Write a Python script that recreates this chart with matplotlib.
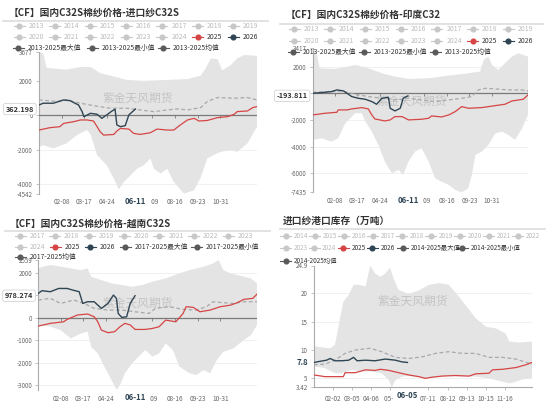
import matplotlib.pyplot as plt
import numpy as np
from matplotlib.lines import Line2D

plt.rcParams['font.family'] = ['Noto Sans CJK SC', 'DejaVu Sans']

W, H = 550, 404
RED = '#d64545'
DARK = '#2f4554'

# 横轴都是一年中的第几天 (0 = 01-01)
# ---------- 面板1: 国内C32S - 进口纱C32S ----------
p1_max_day = [0, 7, 13, 46, 69, 86, 102, 125, 147, 175, 214, 248, 270, 278, 287, 298, 306, 320, 331, 343, 364]
p1_max_val = [3677, 3600, 2750, 2650, 2800, 2800, 2450, 2250, 2050, 2000, 2050, 2100, 2300, 2700, 3300, 3250,
              2600, 2900, 3300, 3500, 3450]
p1_min_day = [0, 7, 24, 46, 63, 80, 86, 97, 113, 125, 133, 141, 153, 164, 175, 186, 192, 203, 214, 225,
              242, 259, 270, 281, 292, 303, 320, 331, 348, 364]
p1_min_val = [-1825, -1730, -1920, -1630, -1150, -850, -1100, -2310, -2890, -3670, -4300, -3900, -3480, -3090,
              -2900, -2500, -3100, -3380, -3100, -3860, -4542, -4350, -3600, -2500, -2300, -2120, -2020, -2120,
              -1630, -660]
p1_mean_day = [0, 30, 46, 69, 91, 119, 147, 169, 192, 214, 231, 248, 270, 281, 298, 326, 348, 364]
p1_mean_val = [890, 800, 890, 700, 560, 410, 410, 310, 210, 310, 370, 310, 450, 800, 1030, 990, 1030, 890]
p1_2025_day = [0, 18, 35, 41, 58, 69, 80, 91, 97, 102, 108, 125, 130, 136, 150, 158, 169, 186, 197, 214,
               225, 236, 248, 259, 267, 281, 298, 315, 326, 331, 348, 357, 364]
p1_2025_val = [-855, -720, -660, -470, -370, -270, -270, -330, -660, -950, -1150, -1110, -910, -760, -800,
               -1050, -1110, -1010, -800, -855, -855, -560, -270, -175, -330, -300, -135, -78, 60, 215, 250,
               445, 505]
p1_2026_day = [0, 7, 24, 41, 52, 60, 66, 72, 75, 86, 97, 105, 113, 122, 127, 130, 136, 144, 150, 161]
p1_2026_val = [600, 700, 700, 890, 850, 700, 600, 210, -78, 115, 60, -175, 20, 250, 350, -560, -660, -600,
               20, 362.198]

# ---------- 面板2: 国内C32S - 印度C32 ----------
p2_max_day = [0, 7, 12, 38, 60, 72, 94, 117, 139, 162, 196, 230, 263, 283, 289, 297, 303, 314, 325, 337, 348, 364]
p2_max_val = [3417, 2875, 1875, 1825, 2000, 2125, 1875, 1500, 1250, 1075, 1125, 1325, 1500, 1625, 2500, 2750,
              2125, 1750, 2250, 2750, 3000, 2750]
p2_min_day = [0, 15, 32, 43, 55, 72, 83, 89, 100, 111, 122, 134, 145, 153, 162, 173, 184, 196, 207, 218,
              230, 241, 252, 263, 269, 275, 286, 297, 309, 320, 331, 342, 354, 364]
p2_min_val = [-3500, -3375, -3625, -3375, -2250, -1500, -1500, -2125, -2875, -3875, -5125, -6000, -5750, -6125,
              -5125, -4375, -4125, -5125, -6375, -6625, -6875, -7250, -7435, -7125, -6125, -4625, -4375, -3875,
              -3000, -2875, -3125, -3500, -2625, -1625]
p2_mean_day = [0, 27, 49, 72, 94, 117, 139, 162, 184, 207, 230, 252, 269, 280, 292, 309, 331, 354, 364]
p2_mean_val = [75, 125, 175, -75, -250, -375, -500, -375, -500, -625, -500, -375, -250, 250, 375, 325, 250, 250, 175]
p2_2025_day = [0, 21, 41, 43, 58, 66, 83, 94, 100, 105, 122, 131, 139, 151, 162, 184, 196, 201, 218, 230,
               241, 252, 263, 286, 309, 325, 337, 356, 364]
p2_2025_val = [-1625, -1500, -1425, -1250, -1250, -1175, -1075, -1175, -1625, -1925, -2075, -2000, -1750, -1750,
               -2000, -1950, -1875, -1700, -1775, -1625, -1375, -1000, -1125, -1075, -925, -825, -575, -450, -125]
p2_2026_day = [0, 15, 32, 41, 52, 58, 66, 77, 89, 100, 108, 117, 128, 131, 139, 148, 153, 161]
p2_2026_val = [0, 50, 125, 250, 175, 0, -250, -375, -450, -625, -825, -375, -300, -1125, -1325, -1125, -375,
               -193.811]

# ---------- 面板3: 国内C32S - 越南C32S ----------
p3_max_day = [0, 8, 20, 31, 54, 71, 82, 88, 105, 122, 139, 156, 173, 190, 212, 235, 252, 275, 291, 300,
              308, 320, 331, 354, 364]
p3_max_val = [2190, 2265, 2340, 2300, 2190, 2115, 2190, 1820, 1670, 1525, 1450, 1375, 1450, 1600, 1745, 1970,
              2115, 2265, 2410, 2559, 2115, 1970, 1895, 1745, 1525]
p3_min_day = [0, 20, 37, 54, 71, 82, 88, 99, 110, 122, 130, 136, 144, 156, 167, 178, 190, 201, 212, 224,
              235, 252, 263, 275, 286, 297, 308, 325, 342, 354, 364]
p3_min_val = [-325, -400, -550, -920, -700, -620, -1290, -1585, -2175, -2770, -3196, -3000, -2470, -2030, -1730,
              -1435, -1730, -1585, -1140, -1435, -2175, -2470, -2545, -2325, -2470, -1880, -1510, -1360, -990,
              -770, -325]
p3_mean_day = [0, 20, 37, 59, 76, 93, 116, 139, 161, 184, 195, 218, 241, 263, 280, 291, 308, 325, 342, 364]
p3_mean_val = [785, 860, 635, 785, 635, 415, 340, 340, 265, 190, 415, 490, 370, 340, 490, 710, 665, 635, 710, 710]
p3_2025_day = [0, 20, 42, 48, 65, 82, 93, 99, 105, 116, 127, 136, 144, 153, 161, 178, 190, 201, 212, 229,
               241, 246, 258, 269, 286, 303, 320, 331, 342, 357, 364]
p3_2025_val = [-370, -250, -180, -75, 120, 165, 45, -180, -550, -665, -620, -400, -250, -320, -520, -520, -475,
               -400, -105, -180, 190, 490, 460, 265, 340, 490, 560, 665, 815, 860, 1050]
p3_2026_day = [0, 6, 20, 34, 48, 57, 68, 74, 82, 93, 105, 116, 125, 130, 133, 139, 147, 153, 161]
p3_2026_val = [1080, 1200, 1155, 1300, 1300, 1230, 1155, 635, 710, 710, 415, 635, 1005, 860, 190, 15, 40, 635,
               978.274]

# ---------- 面板4: 进口纱港口库存（万吨） ----------
p4_max_day = [0, 10, 27, 35, 44, 49, 58, 66, 75, 86, 94, 102, 111, 119, 127, 133, 141, 158, 175, 192,
              209, 225, 242, 259, 270, 287, 304, 320, 326, 343, 364]
p4_max_val = [10.7, 10.5, 10.3, 10.9, 15.9, 18.5, 19.7, 21.5, 21.5, 21.2, 24.9, 23.5, 22.9, 23.5, 24.5, 22.6,
              20.6, 19.9, 20.5, 21.5, 21.8, 21.5, 19.4, 17.1, 15.6, 14.1, 13.8, 12.9, 11.5, 11.3, 11.5]
p4_min_day = [0, 18, 35, 46, 63, 80, 97, 113, 125, 130, 136, 147, 158, 169, 186, 203, 225, 248, 270, 292,
              315, 326, 337, 348, 364]
p4_min_val = [7.1, 6.8, 5.9, 5.9, 6.5, 6.2, 6.2, 5.9, 4.7, 3.42, 4.7, 5.3, 5.4, 5.3, 5.0, 5.2, 5.4, 5.3, 5.3,
              5.0, 4.4, 4.1, 4.4, 4.8, 5.0]
p4_mean_day = [0, 18, 35, 52, 69, 94, 113, 136, 158, 181, 203, 225, 248, 270, 292, 315, 337, 364]
p4_mean_val = [7.4, 7.5, 8.2, 9.4, 10.0, 10.3, 9.7, 8.7, 8.5, 8.8, 9.4, 9.7, 9.4, 9.4, 8.7, 8.7, 8.4, 7.5]
p4_2025_day = [0, 18, 49, 52, 69, 86, 102, 111, 125, 141, 158, 175, 186, 197, 214, 236, 259, 270, 292, 298,
               315, 337, 354, 364]
p4_2025_val = [5.6, 5.3, 5.3, 6.0, 6.0, 6.5, 6.4, 6.6, 6.4, 6.0, 5.6, 5.3, 5.0, 5.2, 5.4, 5.5, 5.4, 5.8, 5.9,
               6.5, 6.6, 6.9, 7.4, 7.8]
p4_2026_day = [0, 10, 21, 27, 35, 46, 58, 66, 72, 86, 102, 119, 136, 147, 156]
p4_2026_val = [7.8, 8.0, 8.2, 8.5, 8.1, 8.1, 8.2, 8.7, 8.1, 8.2, 8.1, 8.4, 8.2, 7.9, 7.8]

# 横轴刻度 (被当前日期标签遮住的部分只留可见的字)
xt_a_day = [38, 75, 113, 189, 227, 265, 303]
xt_a_lab = ['02-08', '03-17', '04-24', '   09', '08-16', '09-23', '10-31']
xt_b_day = [32, 63, 95, 127, 191, 223, 255, 287, 319]
xt_b_lab = ['02-02', '03-05', '04-06', '05-  ', '07-11', '08-12', '09-13', '10-15', '11-16']

titles = ['【CF】国内C32S棉纱价格-进口纱C32S', '【CF】国内C32S棉纱价格-印度C32',
          '【CF】国内C32S棉纱价格-越南C32S', '进口纱港口库存（万吨）']
leg1 = [str(y) for y in range(2013, 2027)] + ['2013-2025最大值', '2013-2025最小值', '2013-2025均值']
leg3 = [str(y) for y in range(2017, 2027)] + ['2017-2025最大值', '2017-2025最小值', '2017-2025均值']
leg4 = [str(y) for y in range(2014, 2027)] + ['2014-2025最大值', '2014-2025最小值', '2014-2025均值']

fig = plt.figure(figsize=(5.5, 4.04), dpi=100)
fig.patch.set_facecolor('white')


def fx(x):
    return x / W


def fy(y):
    return 1 - y / H


def header(x, y, title, line_y, x0, x1):
    fig.text(fx(x), fy(y), title, fontsize=7.0, fontweight='bold', color='#333333', va='center', ha='left')
    fig.add_artist(Line2D([fx(x0), fx(x1)], [fy(line_y)] * 2, color='#dddddd', lw=1.2))


def legend(slots, labels, dx=9.5, fs=4.9):
    for (x, y), lab in zip(slots, labels):
        if lab == '2025':
            c, tc = RED, '#333333'
        elif lab == '2026':
            c, tc = DARK, '#333333'
        elif '值' in lab:
            c, tc = '#5a5a5a', '#333333'
        else:
            c, tc = '#c8c8c8', '#bbbbbb'
        fig.add_artist(Line2D([fx(x - 5.5), fx(x + 5.5)], [fy(y)] * 2, color=c, lw=0.8))
        fig.add_artist(Line2D([fx(x)], [fy(y)], color=c, marker='o', ms=3.4, ls=''))
        fig.text(fx(x + dx), fy(y), lab, fontsize=fs, color=tc, va='center', ha='left')


def panel(box, ylim, mx_d, mx_v, mn_d, mn_v, me_d, me_v, d25, v25, d26, v26,
          ymaj, ymaj_lab, yext, yext_lab, xt_d, xt_l, cur_lab, cur_day, last_lab, wm, zero=True):
    l, r, t, b = box
    ax = fig.add_axes([fx(l), fy(b), (r - l) / W, (b - t) / H])
    ax.fill(list(mx_d) + list(mn_d)[::-1], list(mx_v) + list(mn_v)[::-1], color='#e4e4e4', lw=0, zorder=1)
    ax.text(wm[0], wm[1], '紫金天风期货', transform=ax.transAxes, ha='center', va='center',
            fontsize=8.5, color='#c4c4c4', zorder=2)
    if zero:
        ax.axhline(0, color='#7a7a7a', lw=0.9, zorder=2.6)
        ax.plot(xt_d, [0] * len(xt_d), ls='', marker=3, ms=2.2, mew=0.6, color='#7a7a7a', zorder=2.6)
    ax.plot(me_d, me_v, color='#a8a8a8', lw=0.9, ls=(0, (3, 2)), zorder=3)
    ax.plot(d25, v25, color=RED, lw=0.9, zorder=4)
    ax.plot(d26, v26, color=DARK, lw=1.0, zorder=5)

    ax.set_xlim(0, 364)
    ax.set_ylim(*ylim)
    for s in ['top', 'right', 'bottom']:
        ax.spines[s].set_visible(False)
    ax.spines['left'].set_color('#aaaaaa')
    ax.spines['left'].set_linewidth(0.8)
    if not zero:
        ax.spines['bottom'].set_visible(True)
        ax.spines['bottom'].set_color('#aaaaaa')
        ax.spines['bottom'].set_linewidth(0.8)

    ax.set_yticks(ymaj, ymaj_lab)
    ax.set_yticks(yext, yext_lab, minor=True)
    ax.tick_params(axis='y', which='both', length=2, width=0.5, color='#aaaaaa',
                   labelsize=4.5, labelcolor='#666666', pad=2.5)
    ax.set_xticks(xt_d, xt_l)
    ax.tick_params(axis='x', length=0 if zero else 2, width=0.5, color='#aaaaaa',
                   labelsize=4.6, labelcolor='#666666', pad=3.5)
    ax.grid(axis='y', which='major', color='#eeeeee', lw=0.6)
    ax.set_axisbelow(True)

    ax.annotate(cur_lab, xy=(cur_day, 0), xycoords=('data', 'axes fraction'),
                xytext=(0, -2.6), textcoords='offset points', ha='center', va='top',
                fontsize=5.6, fontweight='bold', color=DARK, annotation_clip=False, zorder=10)
    if zero:
        ax.annotate(last_lab, xy=(0, v26[-1]), xycoords=('axes fraction', 'data'),
                    xytext=(-3.6, 0), textcoords='offset points', ha='right', va='center',
                    fontsize=5.3, fontweight='bold', color='#333333', annotation_clip=False, zorder=10,
                    bbox=dict(boxstyle='round,pad=0.3', fc='white', ec='#cccccc', lw=0.5))
    else:
        ax.annotate(last_lab, xy=(0, v26[-1]), xycoords=('axes fraction', 'data'),
                    xytext=(-4, 0), textcoords='offset points', ha='right', va='center',
                    fontsize=5.6, fontweight='bold', color=DARK, annotation_clip=False, zorder=10,
                    bbox=dict(boxstyle='square,pad=0.2', fc='white', ec='none'))
    return ax


# 标题与图例
header(9, 12.7, titles[0], 20.7, 3, 268)
header(285.7, 15, titles[1], 24, 280, 543)
header(9.7, 224, titles[2], 231, 5, 270)
header(283, 220.7, titles[3], 229.3, 280, 545)

legend([(19 + 35.7 * i, 26) for i in range(7)] + [(19 + 35.7 * i, 37.3) for i in range(7)]
       + [(18, 48.3), (92, 48.3), (163, 48.3)], leg1)
legend([(294 + 35.7 * i, 29.3) for i in range(7)] + [(294 + 35.7 * i, 40.7) for i in range(7)]
       + [(293, 51.7), (364, 51.7), (435, 51.7)], leg1)
legend([(20 + 34.7 * i, 235.7) for i in range(7)]
       + [(20, 246.7), (55, 246.7), (90, 246.7), (125, 246.7), (196.7, 246.7)] + [(20, 257.3)], leg3)
legend([(285.7 + 29 * i, 235.7) for i in range(9)]
       + [(285.7, 247.7), (314, 247.7), (343.3, 247.7), (372.3, 247.7), (402.7, 247.7), (462.3, 247.7)]
       + [(285.7, 261)], leg4, dx=8, fs=4.6)

panel((39, 257, 51.9, 193.6), (-4542, 3677), p1_max_day, p1_max_val, p1_min_day, p1_min_val,
      p1_mean_day, p1_mean_val, p1_2025_day, p1_2025_val, p1_2026_day, p1_2026_val,
      [-4000, -2000, 0, 2000], ['-4000', '-2000', '0', '2000'], [-4542, 3677], ['-4542', '3677'],
      xt_a_day, xt_a_lab, '06-11', 161, '362.198', (0.454, 0.675))
panel((312.7, 528, 47.7, 192.4), (-7435, 3417), p2_max_day, p2_max_val, p2_min_day, p2_min_val,
      p2_mean_day, p2_mean_val, p2_2025_day, p2_2025_val, p2_2026_day, p2_2026_val,
      [-6000, -4000, -2000, 0, 2000], ['-6000', '-4000', '-2000', '', '2000'], [-7435, 3417], ['-7435', '3417'],
      xt_a_day, xt_a_lab, '06-11', 161, '-193.811', (0.46, 0.627))
panel((38.3, 257, 260.1, 389.7), (-3196, 2559), p3_max_day, p3_max_val, p3_min_day, p3_min_val,
      p3_mean_day, p3_mean_val, p3_2025_day, p3_2025_val, p3_2026_day, p3_2026_val,
      [-3000, -2000, -1000, 0, 1000, 2000], ['-3000', '-2000', '-1000', '0', '', '2000'], [2559], ['2559'],
      xt_a_day, xt_a_lab, '06-11', 161, '978.274', (0.454, 0.671))
panel((314, 532, 265.5, 387.3), (3.42, 24.9), p4_max_day, p4_max_val, p4_min_day, p4_min_val,
      p4_mean_day, p4_mean_val, p4_2025_day, p4_2025_val, p4_2026_day, p4_2026_val,
      [5, 10, 15, 20], ['5', '10', '15', '20'], [3.42, 24.9], ['3.42', '24.9'],
      xt_b_day, xt_b_lab, '06-05', 155, '7.8', (0.452, 0.703), zero=False)

fig.savefig('out.png', dpi=100)
